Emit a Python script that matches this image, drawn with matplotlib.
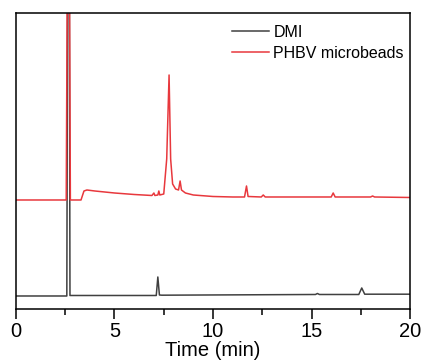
import matplotlib
matplotlib.use("Agg")
import matplotlib.pyplot as plt
from matplotlib.ticker import MultipleLocator

plt.rcParams['font.family'] = ['Liberation Sans', 'DejaVu Sans']

# PHBV microbeads trace (time in min, signal in arbitrary units)
phbv_t = [0.0, 2.55, 2.62, 2.70, 2.76, 3.30, 3.45, 3.60, 4.0, 5.0, 6.0, 6.9, 7.0, 7.05,
          7.2, 7.25, 7.3, 7.5, 7.65, 7.77, 7.85, 7.95, 8.1, 8.25, 8.33, 8.4, 8.6, 9.0,
          10.0, 11.0, 11.6, 11.7, 11.78, 12.45, 12.55, 12.65, 13.0, 16.0, 16.1, 16.2,
          18.0, 18.1, 18.2, 20.0]
phbv_y = [109, 109, 400, 400, 109, 109, 118, 119, 118, 116, 114.5, 113.5, 116, 113.5,
          114, 118, 114, 115, 150, 234, 150, 125, 120, 119, 128, 119, 116, 114,
          112.5, 112, 112, 123, 112.5, 112, 114, 112, 112, 112, 116, 112,
          112, 113, 112, 111.5]

# DMI trace
dmi_t = [0.0, 2.58, 2.63, 2.70, 2.74, 7.0, 7.12, 7.2, 7.28, 7.4, 15.2, 15.3, 15.4,
         17.4, 17.55, 17.7, 20.0]
dmi_y = [13, 13, 400, 400, 13.5, 13.5, 13.5, 32, 14, 13.8, 14.5, 15.5, 14.5,
         14.5, 21, 14.8, 14.8]

xticks = [0, 5, 10, 15, 20]

fig = plt.figure(figsize=(4.22, 3.6), dpi=100)
ax = fig.add_axes([0.0379, 0.1417, 0.9337, 0.8222])

ax.plot(dmi_t, dmi_y, color='#404040', lw=1.1, label='DMI')
ax.plot(phbv_t, phbv_y, color='#e8383d', lw=1.1, label='PHBV microbeads')

ax.set_xlim(0, 20)
ax.set_ylim(0, 296)
ax.set_xticks(xticks)
ax.xaxis.set_minor_locator(MultipleLocator(2.5))
ax.set_yticks([])
ax.tick_params(axis='x', which='major', length=7, width=1.1, labelsize=14.5, pad=2.5, direction='out')
ax.tick_params(axis='x', which='minor', length=4, width=1.1, direction='out')
for s in ax.spines.values():
    s.set_linewidth(1.1)
ax.set_xlabel('Time (min)', fontsize=14.5, labelpad=0)

leg = ax.legend(loc='upper right', bbox_to_anchor=(1.015, 1.0), frameon=False, fontsize=11.5,
                handlelength=2.3, handletextpad=0.3, labelspacing=0.35, borderaxespad=0.35)

fig.savefig('out.png', dpi=100)
